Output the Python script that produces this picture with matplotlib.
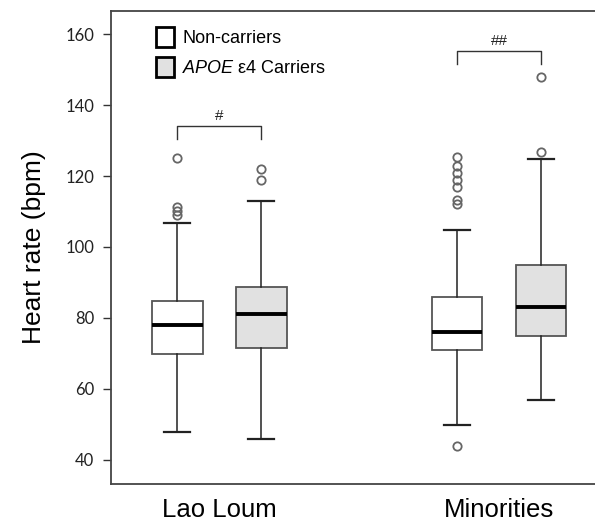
import matplotlib
matplotlib.use('Agg')
import matplotlib.pyplot as plt
from matplotlib.patches import Patch

plt.rcParams['font.family'] = ['Liberation Sans', 'DejaVu Sans']
plt.rcParams['mathtext.fontset'] = 'custom'
plt.rcParams['mathtext.it'] = 'Liberation Sans:italic'
plt.rcParams['mathtext.rm'] = 'Liberation Sans'

# ---- data ----
groups = ['Lao Loum', 'Minorities']
series = ['Non-carriers', 'APOE ε4 Carriers']
medians = [78, 81, 76, 83]
q1 = [69.8, 71.4, 71, 74.9]
q3 = [84.8, 88.8, 85.8, 94.8]
whislo = [47.8, 45.8, 49.9, 56.9]
whishi = [106.8, 113, 104.8, 124.8]
fliers = [
    [125, 111.3, 110.2, 109],
    [122, 118.9],
    [125.4, 122.8, 120.8, 118.9, 116.9, 113.2, 112.1, 43.9],
    [147.9, 126.8],
]
sig_labels = ['#', '##']
sig_heights = [134, 155.2]
yticks = [40, 60, 80, 100, 120, 140, 160]

C_NC = 'white'
C_CAR = '#e1e1e1'
C_EDGE = '#555555'

fig = plt.figure(figsize=(5.95, 5.25), dpi=100)
ax = fig.add_axes([0.1866, 0.0781, 0.8134, 0.9009])

offset = 0.15
positions = []
for g in range(len(groups)):
    positions += [g + 1 - offset, g + 1 + offset]

stats = []
for i in range(4):
    stats.append(dict(med=medians[i], q1=q1[i], q3=q3[i],
                      whislo=whislo[i], whishi=whishi[i], fliers=fliers[i]))

bp = ax.bxp(stats, positions=positions, widths=0.182, patch_artist=True,
            capwidths=0.09,
            boxprops=dict(edgecolor=C_EDGE, linewidth=1.3),
            medianprops=dict(color='black', linewidth=2.8),
            whiskerprops=dict(color='#222222', linewidth=1.1),
            capprops=dict(color='#222222', linewidth=1.6),
            flierprops=dict(marker='o', markersize=6, markerfacecolor='none',
                            markeredgecolor='#666666', markeredgewidth=1.3))
for i, box in enumerate(bp['boxes']):
    box.set_facecolor(C_NC if i % 2 == 0 else C_CAR)

# significance brackets
for g in range(len(groups)):
    x0, x1 = positions[2 * g], positions[2 * g + 1]
    h = sig_heights[g]
    ax.plot([x0, x0, x1, x1], [h - 3.7, h, h, h - 3.7], color='#333333', lw=1.0)
    ax.text((x0 + x1) / 2, h + 1.0, sig_labels[g], ha='center', va='bottom',
            fontsize=11, color='#222222')

ax.set_xlim(0.614, 2.343)
ax.set_ylim(33.2, 166.5)
ax.set_yticks(yticks)
ax.set_yticklabels([str(t) for t in yticks], fontsize=12, color='#222222',
                   family=['Lato', 'DejaVu Sans'])
ax.tick_params(axis='y', length=6, width=1, color='#333333', pad=6)
ax.set_xticks([1, 2])
ax.set_xticklabels(groups, fontsize=18.5)
ax.tick_params(axis='x', length=0, pad=10)
ax.set_ylabel('Heart rate (bpm)', fontsize=19, labelpad=14)

for side in ['left', 'top', 'bottom']:
    ax.spines[side].set_color('#444444')
    ax.spines[side].set_linewidth(1.3)
ax.spines['right'].set_visible(False)

handles = [Patch(facecolor=C_NC, edgecolor='black', linewidth=2),
           Patch(facecolor=C_CAR, edgecolor='black', linewidth=2)]
labels = ['Non-carriers', r'$\mathit{APOE}$ ε4 Carriers']
ax.legend(handles, labels, loc='upper left', bbox_to_anchor=(0.06, 1.0),
          frameon=False, fontsize=13, handlelength=1.0, handleheight=1.3,
          handletextpad=0.45, labelspacing=0.55)

fig.savefig('out.png', dpi=100)
